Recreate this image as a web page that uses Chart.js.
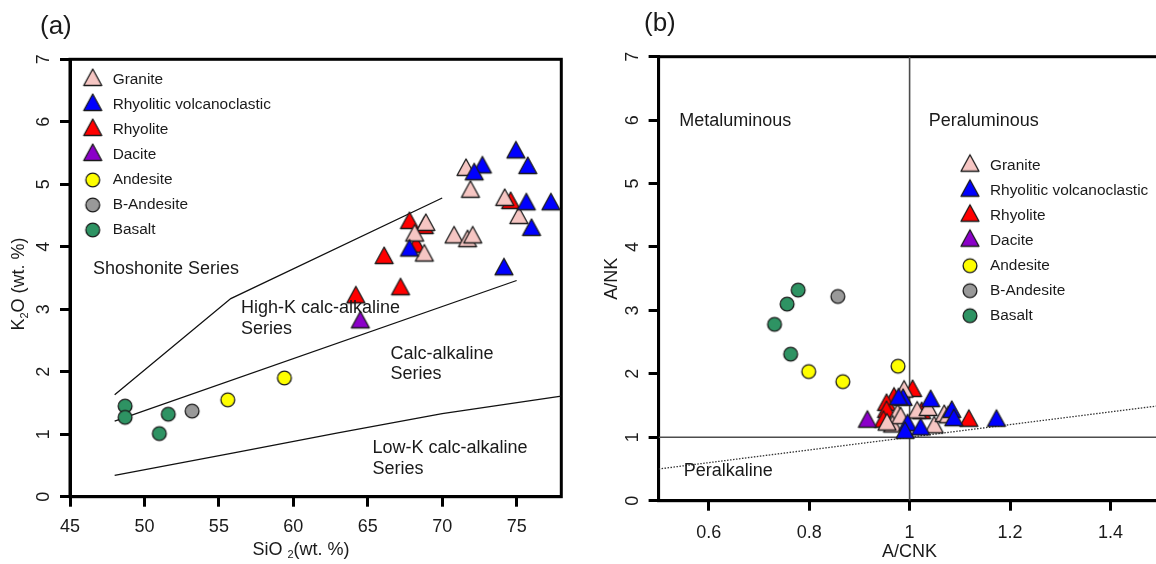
<!DOCTYPE html>
<html>
<head>
<meta charset="utf-8">
<script src="https://cdn.jsdelivr.net/npm/chart.js@4"></script>
<style>
  html, body { margin: 0; padding: 0; background: #fff; overflow: hidden; }
  #wrap { position: relative; width: 1156px; height: 564px; overflow: hidden; }
  canvas { position: absolute; top: 0; }
  #cA { left: 0; }
  #cB { left: 578px; }
  .tag { position: absolute; font: 26px "Liberation Sans", Arial, sans-serif; line-height: 30px; color: #1a1a1a; }
</style>
</head>
<body>
<div id="wrap">
  <canvas id="cA" width="578" height="564"></canvas>
  <canvas id="cB" width="600" height="564"></canvas>
  <div class="tag" style="left:40px; top:10px">(a)</div>
  <div class="tag" style="left:644px; top:7px">(b)</div>
</div>
<script>
// === SÉRIES ===
const seriesNames = ["Granite", "Rhyolitic volcanoclastic", "Rhyolite", "Dacite", "Andesite", "B-Andesite", "Basalt"];
const seriesColors = ["#f6c6c3", "#0000ff", "#ff0000", "#8b00c9", "#ffff00", "#999999", "#2e9363"];
const seriesShapes = ["tri", "tri", "tri", "tri", "dot", "dot", "dot"];

// === (a) K2O x SiO2 ===
const sio2Ticks = [45, 50, 55, 60, 65, 70, 75];
const k2oTicks = [0, 1, 2, 3, 4, 5, 6, 7];
const graniteA = [[71.6, 5.23], [71.9, 4.88], [74.2, 4.75], [75.15, 4.46], [68.9, 4.35], [68.15, 4.18], [68.8, 3.86], [70.8, 4.15], [71.7, 4.09], [72.05, 4.15]];
const volcA = [[74.95, 5.51], [75.75, 5.26], [72.7, 5.27], [72.15, 5.16], [75.65, 4.68], [77.3, 4.68], [76.0, 4.27], [74.15, 3.64], [67.8, 3.94]];
const rhyoliteA = [[67.8, 4.38], [66.1, 3.82], [67.2, 3.32], [64.2, 3.19], [74.6, 4.70], [68.8, 4.30], [68.25, 4.0]];
const daciteA = [[64.5, 2.79]];
const andesiteA = [[55.6, 1.55], [59.4, 1.90]];
const bAndesiteA = [[53.2, 1.37]];
const basaltA = [[48.7, 1.45], [48.7, 1.27], [51.6, 1.32], [51.0, 1.01]];
const shoshoniteLine = [[48, 1.63], [55.8, 3.17], [70, 4.78]];
const highKLine = [[48, 1.21], [75, 3.46]];
const lowKLine = [[48, 0.34], [56, 0.70], [63, 1.02], [70, 1.33], [78, 1.61]];
const notesA = [
  { text: "Shoshonite Series", x: 46.54, y: 3.65 },
  { text: "High-K calc-alkaline", x: 56.48, y: 3.02 },
  { text: "Series", x: 56.48, y: 2.69 },
  { text: "Calc-alkaline", x: 66.53, y: 2.285 },
  { text: "Series", x: 66.53, y: 1.96 },
  { text: "Low-K calc-alkaline", x: 65.32, y: 0.775 },
  { text: "Series", x: 65.32, y: 0.44 }
];

// === (b) A/NK x A/CNK ===
const acnkTicks = [0.6, 0.8, 1, 1.2, 1.4];
const ankTicks = [0, 1, 2, 3, 4, 5, 6, 7];
const graniteB = [[0.989, 1.72], [0.976, 1.35], [0.966, 1.17], [1.015, 1.39], [1.037, 1.43], [1.049, 1.157], [1.069, 1.335], [0.982, 1.30], [0.955, 1.20], [1.077, 1.315]];
const volcB = [[0.987, 1.59], [1.042, 1.57], [0.996, 1.19], [0.991, 1.07], [1.022, 1.125], [1.084, 1.40], [1.088, 1.27], [1.173, 1.26], [0.978, 1.60]];
const rhyoliteB = [[1.006, 1.73], [0.969, 1.61], [0.954, 1.51], [0.954, 1.40], [0.948, 1.245], [1.024, 1.38], [1.118, 1.26]];
const daciteB = [[0.916, 1.245]];
const andesiteB = [[0.799, 2.035], [0.867, 1.877], [0.977, 2.12]];
const bAndesiteB = [[0.857, 3.22]];
const basaltB = [[0.778, 3.32], [0.756, 3.10], [0.731, 2.78], [0.763, 2.31]];
const acnkOneLine = [[1, 0], [1, 7]];
const ankOneLine = [[0.5, 1], [1.5, 1]];
const peralkLine = [[0.5, 0.5], [1.5, 1.5]];
const notesB = [
  { text: "Metaluminous", x: 0.541, y: 5.99 },
  { text: "Peraluminous", x: 1.038, y: 5.99 },
  { text: "Peralkaline", x: 0.55, y: 0.46 }
];

// === ESTILO GERAL ===
const FONT = '"Liberation Sans", Arial, Helvetica, sans-serif';
const INK = "#1a1a1a";
Chart.defaults.font.family = FONT;
Chart.defaults.color = INK;

// marcadores desenhados num canvas (mesmo tamanho no gráfico e na legenda)
function marker(shape, fill) {
  const c = document.createElement("canvas");
  const g = c.getContext("2d");
  if (shape === "tri") {
    c.width = 22; c.height = 26;
    const w = 18, h = 16.5, cy = 13;
    g.beginPath();
    g.moveTo(11, cy - 2 * h / 3);
    g.lineTo(11 + w / 2, cy + h / 3);
    g.lineTo(11 - w / 2, cy + h / 3);
    g.closePath();
  } else {
    c.width = 18; c.height = 18;
    g.beginPath();
    g.arc(9, 9, 6.9, 0, Math.PI * 2);
  }
  g.fillStyle = fill;
  g.fill();
  g.lineWidth = 1.3;
  g.lineJoin = "round";
  g.strokeStyle = "#1b1b1b";
  g.stroke();
  return c;
}
const markers = seriesNames.map((n, i) => marker(seriesShapes[i], seriesColors[i]));

const pts = arr => arr.map(p => ({ x: p[0], y: p[1] }));

// ordem de desenho: azul por cima, depois rosa, depois vermelho
const drawOrder = [2, 1, 3, 0, 0, 0, 0];

function pointSet(i, data) {
  return {
    label: seriesNames[i],
    data: pts(data),
    pointStyle: markers[i],
    pointRadius: 8,
    backgroundColor: seriesColors[i],
    borderColor: "#1b1b1b",
    showLine: false,
    clip: false,
    order: drawOrder[i]
  };
}

function lineSet(data, extra) {
  return Object.assign({
    label: "",
    data: pts(data),
    showLine: true,
    pointRadius: 0,
    borderColor: "#111",
    borderWidth: 1.3,
    fill: false,
    order: 10
  }, extra);
}

function axis(min, max, tickValues, extra) {
  const ticks = Object.assign(
    { font: { size: 18 }, color: INK, callback: v => String(v) },
    extra.ticks || {}
  );
  return Object.assign({
    type: "linear", min, max,
    afterBuildTicks: s => { s.ticks = tickValues.map(v => ({ value: v })); },
    grid: { drawOnChartArea: false, drawTicks: true, tickLength: 10, tickWidth: 3, tickColor: "#000" },
    border: { display: true, color: "#000", width: 3 }
  }, extra, { ticks });
}

// moldura completa da área do gráfico
const framePlugin = {
  id: "frame",
  beforeDatasetsDraw(chart) {
    const { ctx, chartArea: a } = chart;
    ctx.save();
    ctx.strokeStyle = "#000";
    ctx.lineWidth = 3;
    ctx.strokeRect(a.left, a.top, a.right - a.left, a.bottom - a.top);
    ctx.restore();
  }
};

// textos das regiões, em coordenadas de dados
function notesPlugin(items) {
  return {
    id: "notes",
    afterDatasetsDraw(chart) {
      const { ctx, scales: { x, y } } = chart;
      ctx.save();
      ctx.font = "18px " + FONT;
      ctx.fillStyle = INK;
      ctx.textAlign = "left";
      ctx.textBaseline = "middle";
      items.forEach(n => ctx.fillText(n.text, x.getPixelForValue(n.x), y.getPixelForValue(n.y)));
      ctx.restore();
    }
  };
}

// legenda dentro da área do gráfico, na posição pedida
function legendAt(left, top) {
  return {
    id: "legendAt",
    afterLayout(chart) {
      const lg = chart.legend;
      lg.left = left;
      lg.top = top;
      lg.bottom = chart.chartArea.bottom;
    }
  };
}

// títulos com índice (K2O, SiO2)
function richText(ctx, parts, cx, cy, rotate) {
  ctx.save();
  ctx.translate(cx, cy);
  if (rotate) ctx.rotate(-Math.PI / 2);
  const big = "18px " + FONT, small = "11px " + FONT;
  let w = 0;
  parts.forEach(p => { ctx.font = p[1] ? small : big; w += ctx.measureText(p[0]).width; });
  let x = -w / 2;
  ctx.fillStyle = INK;
  ctx.textBaseline = "middle";
  ctx.textAlign = "left";
  parts.forEach(p => {
    ctx.font = p[1] ? small : big;
    ctx.fillText(p[0], x, p[1] ? 5 : 0);
    x += ctx.measureText(p[0]).width;
  });
  ctx.restore();
}
const titlesA = {
  id: "titlesA",
  afterDraw(chart) {
    const ctx = chart.ctx;
    richText(ctx, [["SiO ", 0], ["2", 1], ["(wt. %)", 0]], 301, 550, false);
    richText(ctx, [["K", 0], ["2", 1], ["O (wt. %)", 0]], 19.5, 284, true);
  }
};

const legendLabels = {
  usePointStyle: true,
  pointStyleWidth: 24.6,
  padding: 9.6,
  font: { size: 15.4 },
  color: INK,
  filter: item => item.text !== "",
  sort: (a, b) => a.datasetIndex - b.datasetIndex
};

// === GRÁFICO (a) ===
new Chart(document.getElementById("cA"), {
  type: "scatter",
  data: {
    datasets: [
      pointSet(0, graniteA), pointSet(1, volcA), pointSet(2, rhyoliteA), pointSet(3, daciteA),
      pointSet(4, andesiteA), pointSet(5, bAndesiteA), pointSet(6, basaltA),
      lineSet(shoshoniteLine), lineSet(highKLine), lineSet(lowKLine)
    ]
  },
  options: {
    responsive: false,
    animation: false,
    events: [],
    layout: { padding: { top: 59.3, right: 16.7, left: 0, bottom: 0 } },
    scales: {
      x: axis(45, 78, sio2Ticks, { ticks: { padding: 9.5 }, afterFit: s => { s.height = 67.3; } }),
      y: axis(0, 7, k2oTicks, {
        ticks: { minRotation: 90, maxRotation: 90, crossAlign: "center", padding: 10.5 },
        afterFit: s => { s.width = 70; }
      })
    },
    plugins: {
      legend: { position: "chartArea", align: "start", labels: legendLabels },
      tooltip: { enabled: false }
    }
  },
  plugins: [framePlugin, notesPlugin(notesA), legendAt(70.8, 62.7), titlesA]
});

// === GRÁFICO (b) ===
new Chart(document.getElementById("cB"), {
  type: "scatter",
  data: {
    datasets: [
      pointSet(0, graniteB), pointSet(1, volcB), pointSet(2, rhyoliteB), pointSet(3, daciteB),
      pointSet(4, andesiteB), pointSet(5, bAndesiteB), pointSet(6, basaltB),
      lineSet(acnkOneLine, { borderColor: "#4d4d4d", borderWidth: 1.6 }),
      lineSet(ankOneLine, { borderColor: "#4d4d4d", borderWidth: 1.6 }),
      lineSet(peralkLine, { borderColor: "#333", borderWidth: 1.3, borderDash: [1.5, 1.5] })
    ]
  },
  options: {
    responsive: false,
    animation: false,
    events: [],
    layout: { padding: { top: 56.7, right: 17.4, left: 0, bottom: 0 } },
    scales: {
      x: axis(0.5, 1.5, acnkTicks, {
        ticks: { padding: 11.2 },
        title: { display: true, text: "A/CNK", font: { size: 18 }, color: INK, padding: { top: 0, bottom: 1.2 } },
        afterFit: s => { s.height = 63.3; }
      }),
      y: axis(0, 7, ankTicks, {
        ticks: { minRotation: 90, maxRotation: 90, crossAlign: "center", padding: 10.9 },
        title: { display: true, text: "A/NK", font: { size: 18 }, color: INK, padding: { top: 22.8, bottom: 0 } },
        afterFit: s => { s.width = 80.6; }
      })
    },
    plugins: {
      legend: { position: "chartArea", align: "start", labels: legendLabels },
      tooltip: { enabled: false }
    }
  },
  plugins: [framePlugin, notesPlugin(notesB), legendAt(370.1, 148.4)]
});
</script>
</body>
</html>
